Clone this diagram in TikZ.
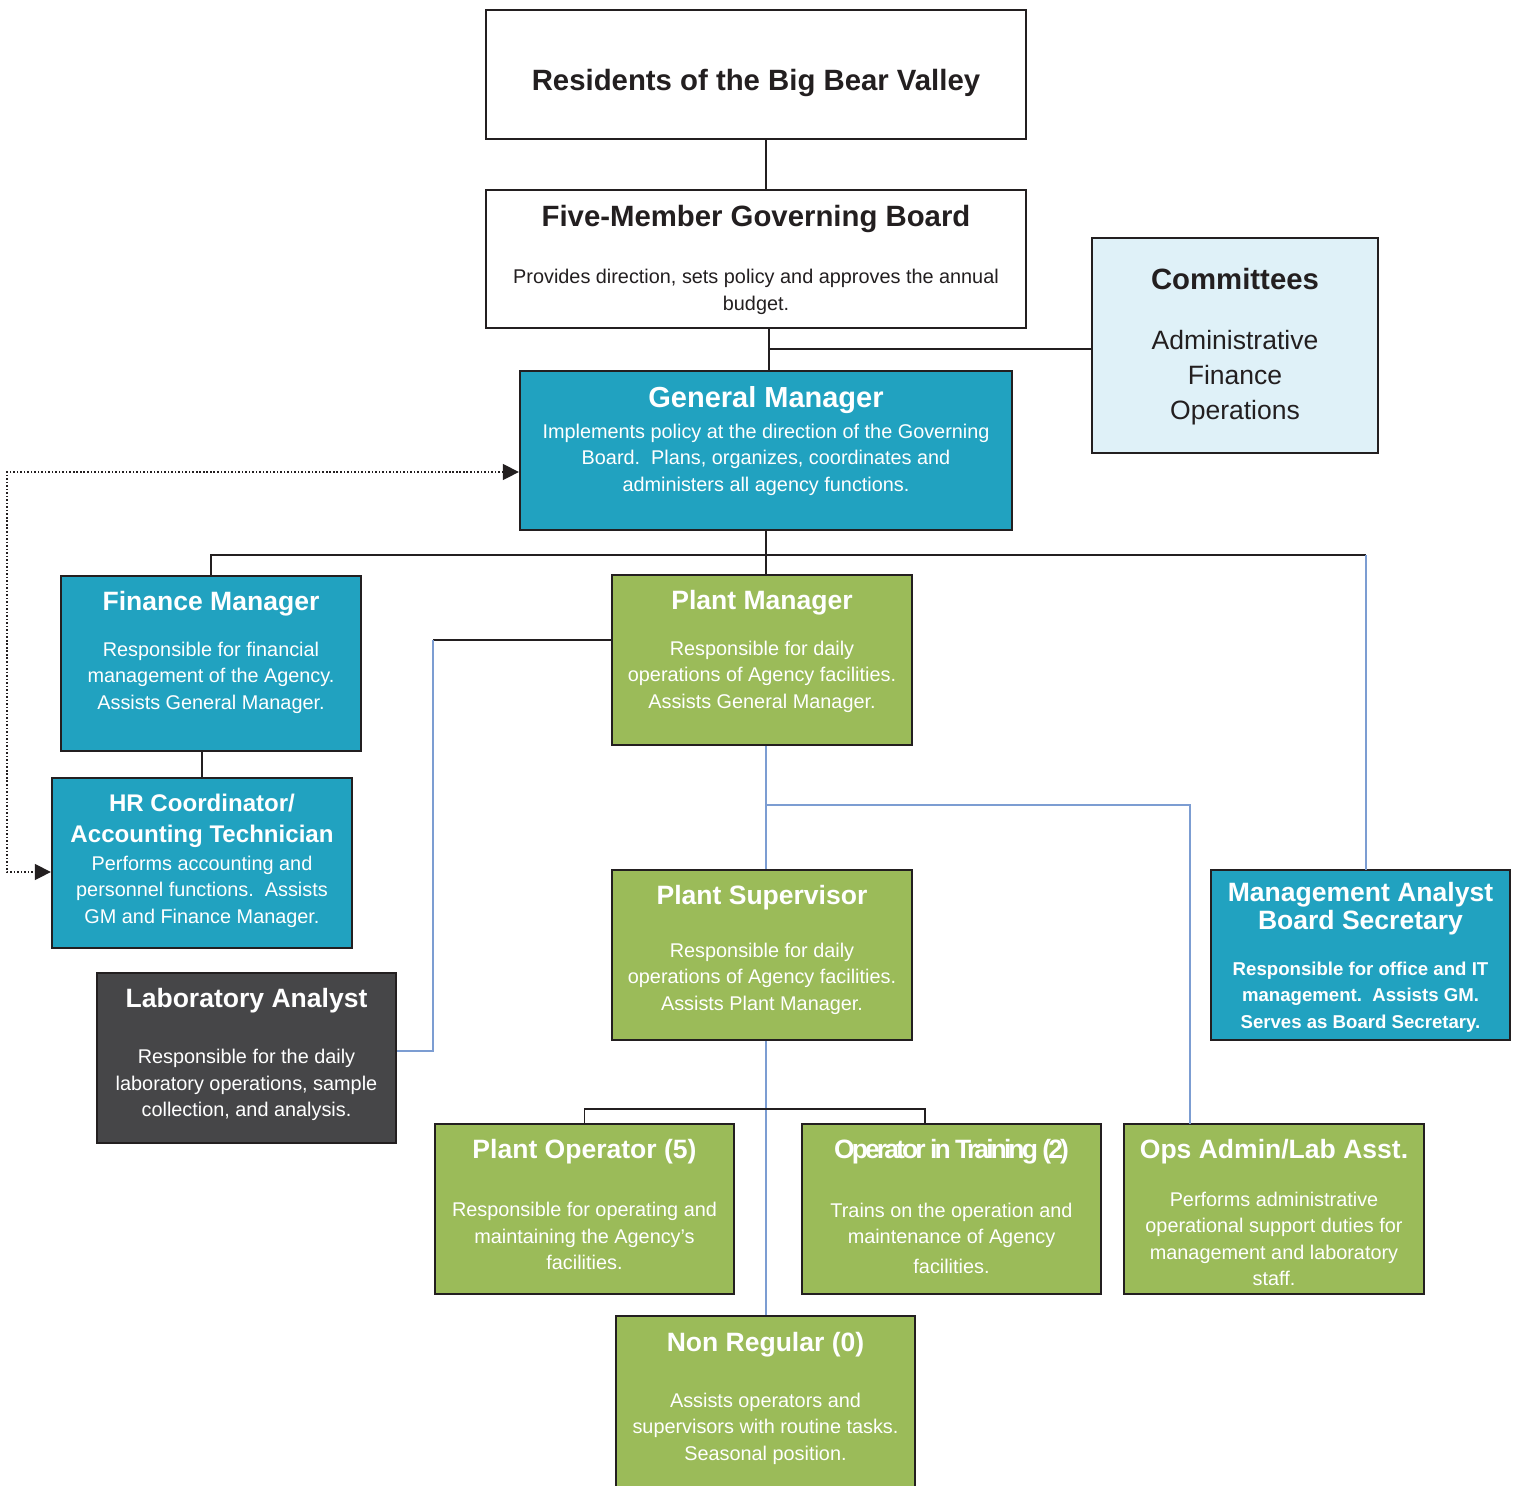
\documentclass[tikz,border=0pt]{standalone}
\usepackage{fontspec}
\setmainfont{Liberation Sans}
\usetikzlibrary{arrows.meta,calc}
\definecolor{cteal}{RGB}{33,162,192}
\definecolor{cgreen}{RGB}{155,187,89}
\definecolor{cdark}{RGB}{70,70,72}
\definecolor{clight}{RGB}{223,241,248}
\definecolor{cblue}{RGB}{124,157,210}
\definecolor{cedge}{RGB}{35,31,32}
\definecolor{cink}{RGB}{35,31,32}
\tikzset{
  bx/.style 2 args={minimum width=#1*0.02cm, minimum height=#2*0.02cm},
  boxbase/.style={draw=cedge, line width=1.3pt, inner sep=0pt},
  wbox/.style={boxbase, fill=white},
  lbox/.style={boxbase, fill=clight},
  tbox/.style={boxbase, fill=cteal},
  gbox/.style={boxbase, fill=cgreen},
  dbox/.style={boxbase, fill=cdark},
  txt/.style={inner sep=0pt, align=center, yshift=-0.06cm},
  ttl/.style={txt, text=white, font=\fontsize{15.1}{17.6}\selectfont\bfseries},
  bigttl/.style={txt, text=cink, font=\fontsize{16.7}{20}\selectfont\bfseries},
  bdy/.style={txt, text=white, font=\fontsize{11.3}{15.1}\selectfont},
  smallbdy/.style={txt, text=white, font=\fontsize{10.6}{15.1}\selectfont},
  conn/.style={draw=cedge, line width=1.1pt},
  bconn/.style={draw=cblue, line width=0.9pt},
  dotconn/.style={draw=cedge, line width=0.8pt, dash pattern=on 0.9pt off 1.1pt,
     {Triangle[length=0.32cm,width=0.32cm]}-{Triangle[length=0.32cm,width=0.32cm]}}
}
\begin{document}
\begin{tikzpicture}[x=0.02cm,y=-0.02cm]
\fill[white] (0,0) rectangle (1522,1485);
\useasboundingbox (0,0) rectangle (1522,1485);

% boxes
\node[wbox, bx={540}{129}] (res) at (756,74.5) {};
\node[wbox, bx={540}{138}] (board) at (756,259) {};
\node[lbox, bx={286}{215}] (comm) at (1235,345.5) {};
\node[tbox, bx={492}{159}] (gm) at (766,450.5) {};
\node[tbox, bx={300}{175}] (fm) at (211,663.5) {};
\node[tbox, bx={300}{170}] (hr) at (202,863) {};
\node[dbox, bx={299}{170}] (lab) at (246.5,1058) {};
\node[gbox, bx={300}{170}] (pm) at (762,660) {};
\node[gbox, bx={300}{170}] (ps) at (762,955) {};
\node[tbox, bx={299}{170}] (ma) at (1360.5,955) {};
\node[gbox, bx={299}{170}] (po) at (584.5,1209) {};
\node[gbox, bx={299}{170}] (oit) at (951.5,1209) {};
\node[gbox, bx={300}{170}] (ops) at (1274,1209) {};
\node[gbox, bx={299}{178}] (nr) at (765.5,1405) {};

% texts
\node[bigttl] (resT) at (756,80) {Residents of the Big Bear Valley};
\node[bigttl] (boardT) at (756,216) {Five-Member Governing Board};
\node[bdy, text=cink] (boardB) at (756,289) {Provides direction, sets policy and approves the annual\\budget.};
\node[bigttl] (commT) at (1235,276) {Committees};
\node[txt, text=cink, font=\fontsize{15.1}{19.9}\selectfont] (commB) at (1235,375) {Administrative\\Finance\\Operations};
\node[bigttl, text=white, font=\fontsize{16.5}{20}\selectfont\bfseries] (gmT) at (766,397) {General Manager};
\node[bdy] (gmB) at (766,456.5) {Implements policy at the direction of the Governing\\Board.\ \ Plans, organizes, coordinates and\\administers all agency functions.};
\node[ttl] (fmT) at (211,601) {Finance Manager};
\node[bdy] (fmB) at (211,674.5) {Responsible for financial\\management of the Agency.\\Assists General Manager.};
\node[ttl, font=\fontsize{13.7}{17.6}\selectfont\bfseries] (hrT) at (202,817.5) {HR Coordinator/\\Accounting Technician};
\node[bdy] (hrB) at (202,888.5) {Performs accounting and\\personnel functions.\ \ Assists\\GM and Finance Manager.};
\node[ttl] (labT) at (246.5,998) {Laboratory Analyst};
\node[bdy] (labB) at (246.5,1082) {Responsible for the daily\\laboratory operations, sample\\collection, and analysis.};
\node[ttl] (pmT) at (762,600) {Plant Manager};
\node[bdy] (pmB) at (762,673.5) {Responsible for daily\\operations of Agency facilities.\\Assists General Manager.};
\node[ttl] (psT) at (762,895) {Plant Supervisor};
\node[bdy] (psB) at (762,975.5) {Responsible for daily\\operations of Agency facilities.\\Assists Plant Manager.};
\node[ttl, font=\fontsize{15.1}{16}\selectfont\bfseries] (maT) at (1360.5,906) {Management Analyst\\Board Secretary};
\node[smallbdy, font=\fontsize{10.6}{15.1}\selectfont\bfseries] (maB) at (1360.5,994) {Responsible for office and IT\\management.\ \ Assists GM.\\Serves as Board Secretary.};
\node[ttl] (poT) at (584.5,1149) {Plant Operator (5)};
\node[bdy] (poB) at (584.5,1233) {Responsible for operating and\\maintaining the Agency’s\\facilities.};
\node[ttl, font=\fontsize{15.1}{17.6}\selectfont\bfseries\addfontfeature{LetterSpace=-11}] (oitT) at (951.5,1149) {Operator in Training (2)};
\node[bdy] (oitB) at (951.5,1235.5) {Trains on the operation and\\maintenance of Agency\\[2pt]facilities.};
\node[ttl] (opsT) at (1274,1149) {Ops Admin/Lab Asst.};
\node[bdy] (opsB) at (1274,1236) {Performs administrative\\operational support duties for\\management and laboratory\\staff.};
\node[ttl] (nrT) at (765.5,1342) {Non Regular (0)};
\node[bdy] (nrB) at (765.5,1425.5) {Assists operators and\\supervisors with routine tasks.\\Seasonal position.};

% helper coordinates
\coordinate (b1) at (769,349);
\coordinate (bus1) at (766,555);
\coordinate (maIn) at (1366,870);
\coordinate (pmL) at (612,640);
\coordinate (k1) at (433,640);
\coordinate (k2) at (433,1051);
\coordinate (j1) at (766,805);
\coordinate (opsIn) at (1190,1124);
\coordinate (bus2) at (766,1109);
\coordinate (oitIn) at (925,1124);
\coordinate (d1) at (7,472);
\coordinate (d2) at (7,872);

% connectors
\draw[conn] (gm.north |- res.south) -- (gm.north |- board.north);
\draw[conn] (b1 |- board.south) -- (b1 |- gm.north);
\draw[conn] (b1) -- (comm.west |- b1);
\draw[conn] (gm.south) -- (gm.south |- pm.north);
\draw[conn] (fm.north) |- (bus1) -- (bus1 -| maIn);
\draw[bconn] (bus1 -| maIn) -- (maIn);
\draw[conn] (hr.north |- fm.south) -- (hr.north);
\draw[conn] (pmL) -- (k1);
\draw[bconn] (k1) -- (k2) -- (k2 -| lab.east);
\draw[bconn] (gm.south |- pm.south) -- (gm.south |- ps.north);
\draw[bconn] (j1) -| (opsIn);
\draw[bconn] (gm.south |- ps.south) -- (gm.south |- nr.north);
\draw[conn] (po.north) |- (bus2) -| (oitIn);
\draw[dotconn] (gm.west |- d1) -- (d1) -- (d2) -- (hr.west |- d2);
\end{tikzpicture}
\end{document}
